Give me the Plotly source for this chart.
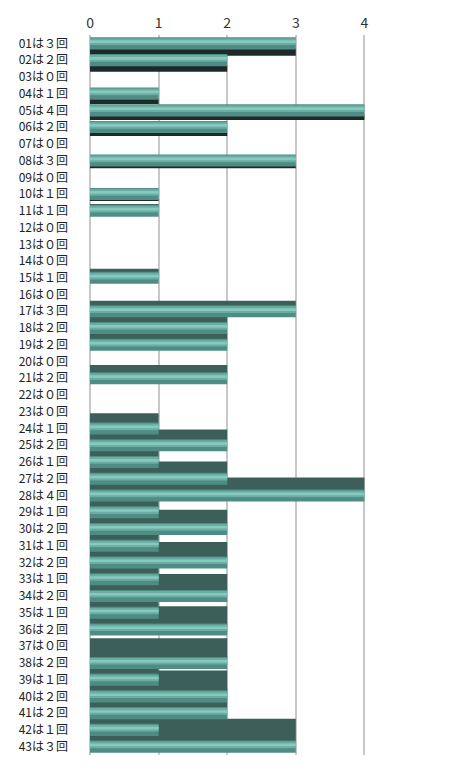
import plotly.graph_objects as go

ids = [f"{i:02d}" for i in range(1, 44)]
counts = [3, 2, 0, 1, 4, 2, 0, 3, 0, 1, 1, 0, 0, 0, 1, 0, 3, 2, 2, 0, 2, 0, 0,
          1, 2, 1, 2, 4, 1, 2, 1, 2, 1, 2, 1, 2, 0, 2, 1, 2, 2, 1, 3]
fw = str.maketrans("0123456789", "０１２３４５６７８９")
labels = [f"{a}は{str(c).translate(fw)}回" for a, c in zip(ids, counts)]
xticks = [0, 1, 2, 3, 4]

# perspective-like face thickness (styling only)
i0 = 9.35
k = 0.04
face_off, face_w, face_col = [], [], []
for i in range(len(counts)):
    t = k * (i - i0)
    if t < 0:
        face_off.append(0.30)
        face_w.append(-t + 0.06)
        face_col.append("#1e2a28")
    else:
        face_off.append(-0.36 - t)
        face_w.append(t + 0.06)
        face_col.append("#3d5f5a")

fig = go.Figure()
fig.add_trace(go.Bar(y=labels, x=counts, orientation="h", base=0,
                     offset=face_off, width=face_w,
                     marker=dict(color=face_col, line=dict(width=0)),
                     hoverinfo="skip"))
fig.add_trace(go.Bar(y=labels, x=counts, orientation="h", base=0,
                     offset=-0.36, width=0.72,
                     marker=dict(color="#4f8d84", line=dict(width=0))))
fig.add_trace(go.Bar(y=labels, x=counts, orientation="h", base=0,
                     offset=-0.30, width=0.40,
                     marker=dict(color="#6aada2", line=dict(width=0)),
                     hoverinfo="skip"))
fig.add_trace(go.Bar(y=labels, x=counts, orientation="h", base=0,
                     offset=-0.18, width=0.16,
                     marker=dict(color="#86c9bd", line=dict(width=0)),
                     hoverinfo="skip"))

fig.update_layout(
    width=469, height=775,
    margin=dict(l=80, r=84, t=28, b=20),
    paper_bgcolor="white", plot_bgcolor="white",
    barmode="overlay", showlegend=False,
    font=dict(family="Noto Sans CJK JP", color="#222222"),
)
fig.update_xaxes(side="top", range=[-0.146, 4.3], tickvals=xticks,
                 showgrid=True, gridcolor="#c8c8c8", gridwidth=1.5,
                 zeroline=False, showline=False, ticklabelstandoff=3,
                 tickfont=dict(size=14, color="#333333", family="Noto Sans CJK JP"))
fig.update_yaxes(type="category", autorange="reversed", showgrid=False,
                 showline=False, zeroline=False, ticks="", ticklabelstandoff=11,
                 tickfont=dict(size=12, color="#222222", family="Noto Sans CJK JP"))
fig.write_html("out.html")
